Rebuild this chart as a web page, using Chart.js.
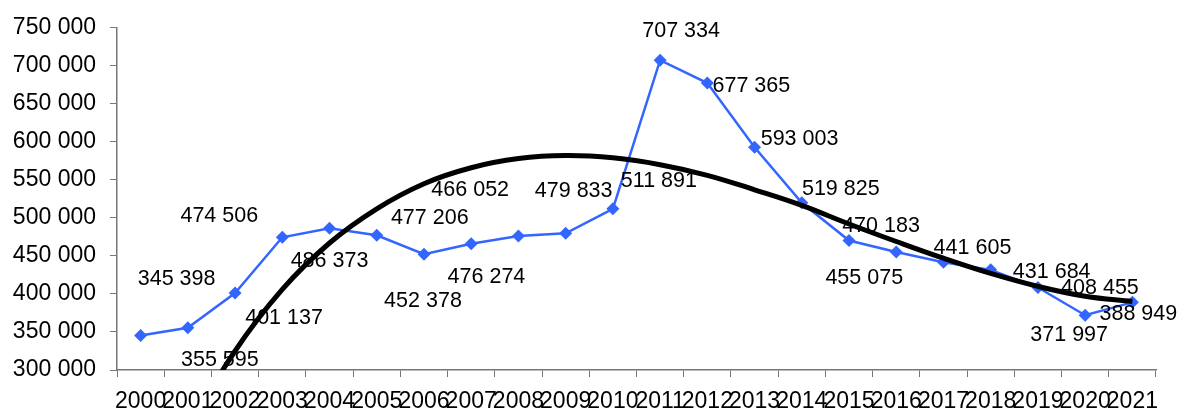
<!DOCTYPE html>
<html>
<head>
<meta charset="utf-8">
<script src="https://cdn.jsdelivr.net/npm/chart.js@4"></script>
<style>
  html, body { margin: 0; padding: 0; background: #fff; }
  #wrap { width: 1177px; height: 408px; }
</style>
</head>
<body>
<div id="wrap"><canvas id="main-chart" width="1177" height="408"></canvas></div>
<script>
const years = ['2000','2001','2002','2003','2004','2005','2006','2007','2008','2009','2010',
  '2011','2012','2013','2014','2015','2016','2017','2018','2019','2020','2021']
const values = [345398, 355595, 401137, 474506, 486373, 477206, 452378, 466052, 476274, 479833, 511891,
  707334, 677365, 593003, 519825, 470183, 455075, 441605, 431684, 408455, 371997, 388949]
// trend curve (first two years fall below the axis)
const trend = [87000, 220000, 325000, 406000, 467000, 512000, 545000, 566000, 578000, 582000, 579000,
  570000, 556000, 537000, 516500, 492000, 469000, 447000, 427000, 410000, 397000, 390000]
const yTicks = [300000, 350000, 400000, 450000, 500000, 550000, 600000, 650000, 700000, 750000]

// where each value label sits relative to its marker, px
const labelOffsets = [[36,-56],[32,32],[49,25],[-63,-21],[0,33],[53,-17],[-1,47],[-1,-54],[-32,41],[8,-42],[46,-28],
  [21,-29],[44,3],[45,-8],[39,-14],[32,-15],[-32,26],[29,-14],[61,2],[62,1],[-16,20],[6,12]]

const fmt = v => String(v).replace(/\B(?=(\d{3})+(?!\d))/g, ' ')

const valueLabels = {
  id: 'valueLabels',
  afterDatasetsDraw(chart) {
    const ctx = chart.ctx
    const meta = chart.getDatasetMeta(0)
    ctx.save()
    ctx.font = '21.5px "Liberation Sans", Arial, sans-serif'
    ctx.fillStyle = '#000'
    ctx.textAlign = 'center'
    ctx.textBaseline = 'middle'
    meta.data.forEach((pt, i) => {
      ctx.fillText(fmt(values[i]), pt.x + labelOffsets[i][0], pt.y + labelOffsets[i][1])
    })
    ctx.restore()
  }
}

const axisColor = '#777'
const font = { family: '"Liberation Sans", Arial, sans-serif', size: 23 }

// eslint-disable-next-line no-unused-vars
const mainChart = new Chart(document.getElementById('main-chart'), {
  type: 'line',
  data: {
    labels: years,
    datasets: [
      {
        label: 'values',
        data: values,
        borderColor: '#3366ff',
        backgroundColor: '#3366ff',
        borderWidth: 2.5,
        pointStyle: 'rectRot',
        pointRadius: 6.5,
        pointBorderWidth: 0,
        tension: 0,
        order: 1,
      },
      {
        label: 'trend',
        data: trend,
        borderColor: '#000',
        borderWidth: 5,
        pointRadius: 0,
        tension: 0.4,
        order: 0,
      },
    ],
  },
  options: {
    responsive: false,
    animation: false,
    events: [],
    layout: { padding: { top: 24, right: 21, left: 0, bottom: 0 } },
    plugins: {
      legend: { display: false },
      tooltip: { enabled: false },
    },
    scales: {
      x: {
        offset: true,
        grid: {
          offset: true,
          drawOnChartArea: false,
          drawTicks: true,
          tickLength: 7,
          color: axisColor,
        },
        border: { color: axisColor, width: 1.5 },
        ticks: {
          autoSkip: false,
          maxRotation: 0,
          minRotation: 0,
          padding: 11,
          color: '#000',
          font: font,
        },
        afterFit(scale) { scale.height = 38 },
      },
      y: {
        min: 300000,
        max: 750000,
        afterBuildTicks(scale) { scale.ticks = yTicks.map(v => ({ value: v })) },
        grid: {
          drawOnChartArea: false,
          tickLength: 7,
          color: axisColor,
        },
        border: { color: axisColor, width: 1.5 },
        ticks: {
          padding: 14,
          color: '#000',
          font: font,
          callback: v => fmt(v),
        },
        afterFit(scale) { scale.width = 117 },
      },
    },
  },
  plugins: [valueLabels],
})
</script>
</body>
</html>
